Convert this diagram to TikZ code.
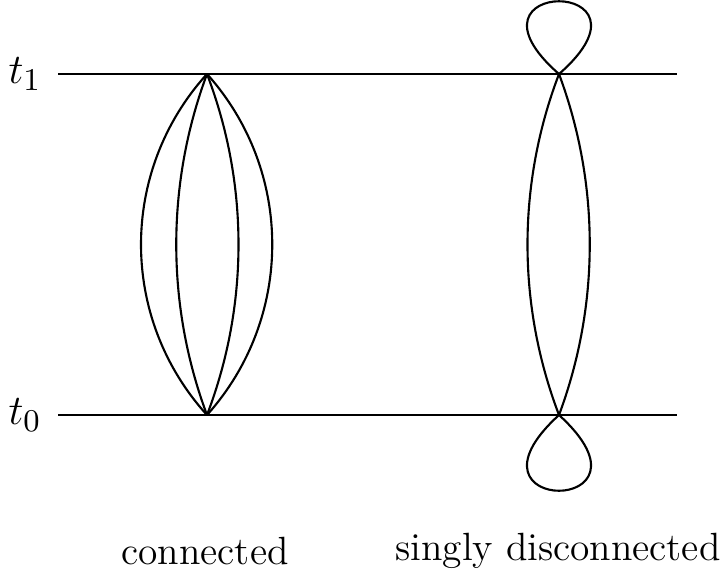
\documentclass[tikz,border=0pt]{standalone}
\usetikzlibrary{positioning}

\begin{document}
\begin{tikzpicture}[x=0.01cm, y=-0.01cm,
  level/.style={line width=0.6pt},
  prop/.style={line width=0.6pt},
  lbl/.style={font=\fontsize{11.2}{13}\selectfont, inner sep=2pt},
  tlbl/.style={font=\fontsize{13}{15}\selectfont, inner sep=2pt}
]
  \useasboundingbox (0,0) rectangle (724,578);
  % time slices
  \coordinate (t1a) at (58,74);
  \coordinate (t1b) at (677,74);
  \coordinate (t0a) at (58,415);
  \coordinate (t0b) at (677,415);
  \draw[level] (t1a) -- (t1b);
  \draw[level] (t0a) -- (t0b);
  \node[tlbl, left=2.5pt of t1a] (t1) {$t_1$};
  \node[tlbl, left=2.5pt of t0a] (t0) {$t_0$};
  % vertices
  \coordinate (cu) at (207,74);
  \coordinate (cd) at (207,415);
  \coordinate (du) at (559,74);
  \coordinate (dd) at (559,415);
  % connected
  \draw[prop] (cu) .. controls (119,171) and (119,318) .. (cd);
  \draw[prop] (cu) .. controls (166,184) and (166,305) .. (cd);
  \draw[prop] (cu) .. controls (249,184) and (249,305) .. (cd);
  \draw[prop] (cu) .. controls (294,171) and (294,318) .. (cd);
  % singly disconnected
  \draw[prop] (du) .. controls (517,184) and (517,305) .. (dd);
  \draw[prop] (du) .. controls (600,184) and (600,305) .. (dd);
  \draw[prop] (du) .. controls (448,-23) and (670,-23) .. (du);
  \draw[prop] (dd) .. controls (448,516) and (670,516) .. (dd);
  % captions
  \node[lbl] (conn) at (205,551) {connected};
  \node[lbl] (disc) at (558,551) {singly disconnected};
\end{tikzpicture}
\end{document}
